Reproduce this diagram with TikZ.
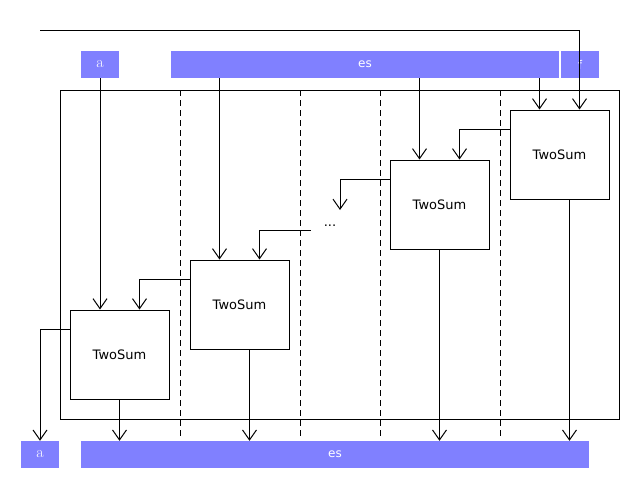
\documentclass[tikz,border=0pt]{standalone}
\usepackage{fontspec}
\setsansfont{DejaVu Sans}
\usetikzlibrary{arrows.meta}
\definecolor{barblue}{RGB}{128,128,255}
\tikzset{
  bar/.style={fill=barblue,text=white,minimum height=27pt,inner sep=0pt,font=\sffamily\fontsize{12}{12}\selectfont},
  twosum/.style={draw,line width=1pt,minimum width=99pt,minimum height=89pt,inner sep=0pt,font=\sffamily\fontsize{13}{13}\selectfont},
  arr/.style={line width=1pt,-{Straight Barb[length=10pt,width=14pt,line width=1pt]}},
  sep/.style={line width=1pt,dash pattern=on 6pt off 4pt}
}
\begin{document}
\begin{tikzpicture}[x=1pt,y=-1pt]
  \useasboundingbox (0,0) rectangle (640,490);
  \node[bar,minimum width=38pt,font=\fontsize{16}{16}\selectfont] (ta) at (100,64.5) {a};
  \node[bar,minimum width=388pt] (tes) at (365,64.5) {es};
  \node[bar,minimum width=38pt] (tf) at (580,64.5) {f};
  \node[bar,minimum width=38pt,font=\fontsize{16}{16}\selectfont] (ba) at (40,454.5) {a};
  \node[bar,minimum width=508pt] (bes) at (335,454.5) {es};
  \draw[line width=1pt] (60,90) rectangle (619,419);
  \foreach \x in {180,300,380,500}
    \draw[sep] (\x,90) -- (\x,437);
  \node[twosum] (box1) at (119.5,354.5) {TwoSum};
  \node[twosum] (box2) at (239.5,304.5) {TwoSum};
  \node[twosum] (box3) at (439.5,204.5) {TwoSum};
  \node[twosum] (box4) at (559.5,154.5) {TwoSum};
  \node[minimum width=38pt,inner sep=0pt,font=\sffamily\fontsize{13}{13}\selectfont] (dots) at (330,226) {...};
  \coordinate (fin) at (40,30);
  \coordinate (i2) at ([xshift=30]box2.north west);
  \coordinate (i3) at ([xshift=30]box3.north west);
  \coordinate (i4) at ([xshift=30]box4.north west);
  \coordinate (c1) at ([xshift=70]box1.north west);
  \coordinate (c2) at ([xshift=70]box2.north west);
  \coordinate (c3) at ([xshift=70]box3.north west);
  \coordinate (c4) at ([xshift=70]box4.north west);
  \coordinate (o1) at ([xshift=50]box1.south west);
  \coordinate (o2) at ([xshift=60]box2.south west);
  \coordinate (o3) at ([xshift=50]box3.south west);
  \coordinate (o4) at ([xshift=60]box4.south west);
  % inputs
  \draw[arr] (ta.south) -- (ta.south |- box1.north);
  \draw[arr] (tes.south -| i2) -- (i2);
  \draw[arr] (tes.south -| i3) -- (i3);
  \draw[arr] (tes.south -| i4) -- (i4);
  \draw[arr] (fin) -| (c4);
  % carries
  \draw[arr] ([yshift=-20]box4.north west) -| (c3);
  \draw[arr] ([yshift=-20]box3.north west) -| ([xshift=10,yshift=16]dots.center);
  \draw[arr] ([yshift=-4]dots.west) -| (c2);
  \draw[arr] ([yshift=-20]box2.north west) -| (c1);
  \draw[arr] ([yshift=-20]box1.north west) -| (ba.north);
  % outputs
  \draw[arr] (o1) -- (o1 |- bes.north);
  \draw[arr] (o2) -- (o2 |- bes.north);
  \draw[arr] (o3) -- (o3 |- bes.north);
  \draw[arr] (o4) -- (o4 |- bes.north);
\end{tikzpicture}
\end{document}
